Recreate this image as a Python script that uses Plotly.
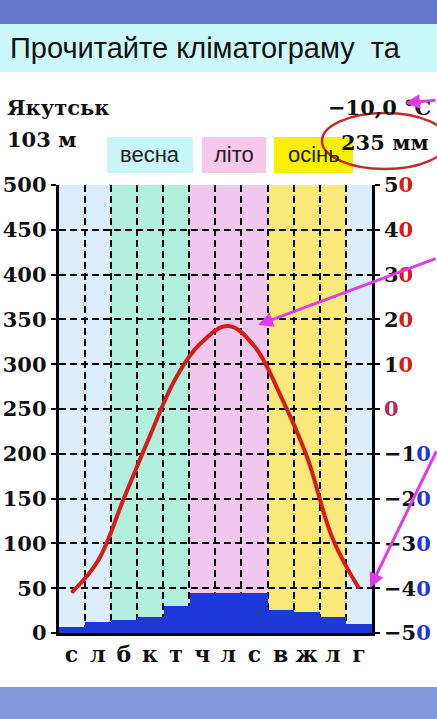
import plotly.graph_objects as go

W, H = 437, 719

# data (Якутськ)
months = ["с", "л", "б", "к", "т", "ч", "л", "с", "в", "ж", "л", "г"]
seasons = ["зима", "зима", "весна", "весна", "весна", "літо", "літо", "літо",
           "осінь", "осінь", "осінь", "зима"]
precip_mm = [7, 12, 14, 18, 30, 45, 45, 45, 26, 24, 18, 10]
temp_c = [-41, -34, -20, -6, 7, 15, 18.5, 14, 3, -10.5, -29, -40]
mm_ticks = list(range(0, 501, 50))
t_ticks = list(range(-50, 51, 10))

season_fill = {"зима": "#dcedfb", "весна": "#b0f0dc", "літо": "#f1c6ef", "осінь": "#f9e87a"}
legend_fill = {"весна": "#c9f7f7", "літо": "#f7c8e9", "осінь": "#f8f000"}

SERIF = "DejaVu Serif"
SANS = "Liberation Sans"
RED = "#d81c16"
BLUE = "#1e38d8"


def px(x):
    return x / W


def py(y):
    return 1 - y / H


def t_label(v):
    s = str(abs(v))
    head, last = s[:-1], s[-1]
    sign = "−" if v < 0 else ""
    col = RED if v > 0 else BLUE
    if v == 0:
        col = "#b02a60"
    return f"{sign}{head}<span style='color:{col}'>{last}</span>"


idx = list(range(12))
fig = go.Figure()

fig.add_trace(go.Bar(
    x=idx, y=precip_mm, width=1,
    marker=dict(color=BLUE, line=dict(width=0)),
    showlegend=False, hoverinfo="skip",
))
fig.add_trace(go.Scatter(
    x=idx, y=temp_c, yaxis="y2", mode="lines",
    line=dict(color=RED, width=4, shape="spline", smoothing=1.1),
    showlegend=False, hoverinfo="skip",
))

shapes = []
# season background columns
for i, s in enumerate(seasons):
    shapes.append(dict(type="rect", xref="x", yref="y", x0=i - 0.5, x1=i + 0.5,
                       y0=0, y1=mm_ticks[-1], fillcolor=season_fill[s],
                       line=dict(width=0), layer="below"))
# slide decoration: map strips and title band
shapes.append(dict(type="rect", xref="paper", yref="paper", x0=0, x1=1, y0=py(24), y1=1,
                   fillcolor="#6677cc", line=dict(width=0), layer="below"))
shapes.append(dict(type="rect", xref="paper", yref="paper", x0=0, x1=1, y0=py(72), y1=py(24),
                   fillcolor="#ccf8fa", line=dict(width=0), layer="below"))
shapes.append(dict(type="rect", xref="paper", yref="paper", x0=0, x1=1, y0=0, y1=py(687),
                   fillcolor="#8797dc", line=dict(width=0), layer="below"))

# legend boxes
boxes = [("весна", 107, 193), ("літо", 202, 266), ("осінь", 274, 353)]
annotations = []
for name, x0, x1 in boxes:
    shapes.append(dict(type="rect", xref="paper", yref="paper", x0=px(x0), x1=px(x1),
                       y0=py(173), y1=py(137), fillcolor=legend_fill[name],
                       line=dict(width=0), layer="below"))
    annotations.append(dict(xref="paper", yref="paper", x=px((x0 + x1) / 2), y=py(155),
                            text=name, showarrow=False, xanchor="center", yanchor="middle",
                            font=dict(family=SANS, size=22, color="#222222")))

# red ellipse around the precipitation total
shapes.append(dict(type="circle", xref="paper", yref="paper", x0=px(322), x1=px(448),
                   y0=py(169), y1=py(113), line=dict(color="#c42a2a", width=2.5),
                   layer="above"))

annotations += [
    dict(xref="paper", yref="paper", x=px(8), y=py(48), text="Прочитайте кліматограму\u00a0 та",
         showarrow=False, xanchor="left", yanchor="middle",
         font=dict(family=SANS, size=29, color="#111111")),
    dict(xref="paper", yref="paper", x=px(5), y=py(107), text="Якутськ",
         showarrow=False, xanchor="left", yanchor="middle",
         font=dict(family=SERIF, size=21, color="#111111", weight="bold")),
    dict(xref="paper", yref="paper", x=px(5), y=py(140), text="103 м",
         showarrow=False, xanchor="left", yanchor="middle",
         font=dict(family=SERIF, size=21, color="#111111", weight="bold")),
    dict(xref="paper", yref="paper", x=px(433), y=py(107), text="−10,0 °C",
         showarrow=False, xanchor="right", yanchor="middle",
         font=dict(family=SERIF, size=21, color="#111111", weight="bold")),
    dict(xref="paper", yref="paper", x=px(431), y=py(142), text="235 мм",
         showarrow=False, xanchor="right", yanchor="middle",
         font=dict(family=SERIF, size=21, color="#111111", weight="bold")),
]

# magenta pointer arrows
for hx, hy, tx, ty in [(405, 103, 445, 100), (258, 325, 440, 258), (370, 588, 440, 450)]:
    annotations.append(dict(xref="paper", yref="paper", x=px(hx), y=py(hy),
                            ax=tx - hx, ay=ty - hy, axref="pixel", ayref="pixel",
                            text="", showarrow=True, arrowhead=2, arrowsize=1,
                            arrowwidth=3, arrowcolor="#e03ce6"))

grid = dict(gridcolor="black", gridwidth=2, griddash="7px,4px")
tick_font = dict(family=SERIF, size=21, color="#111111", weight="bold")

fig.update_layout(
    width=W, height=H,
    margin=dict(l=0, r=0, t=0, b=0, autoexpand=False),
    paper_bgcolor="white", plot_bgcolor="rgba(0,0,0,0)",
    barmode="overlay", bargap=0,
    shapes=shapes, annotations=annotations,
    xaxis=dict(
        domain=[px(58.5), px(372)], range=[-0.5, 11.5],
        tickvals=idx, ticktext=months, ticks="", showgrid=False, zeroline=False,
        showline=True, linecolor="black", linewidth=2.5,
        tickfont=dict(family=SERIF, size=22, color="#111111", weight="bold"),
        minor=dict(tickvals=[i + 0.5 for i in idx[:-1]], showgrid=True, ticks="", **grid),
        fixedrange=True,
    ),
    yaxis=dict(
        domain=[py(633), py(185)], range=[0, mm_ticks[-1]],
        tickvals=mm_ticks, ticks="outside", ticklen=5, tickwidth=2, tickcolor="black",
        showgrid=True, zeroline=False, showline=True, linecolor="black", linewidth=2.5,
        tickfont=tick_font, fixedrange=True, **grid,
    ),
    yaxis2=dict(
        overlaying="y", side="right", anchor="x", range=[t_ticks[0], t_ticks[-1]],
        tickvals=t_ticks, ticktext=[t_label(v) for v in t_ticks],
        ticks="outside", ticklen=5, tickwidth=2, tickcolor="black",
        showgrid=False, zeroline=False, showline=True, linecolor="black", linewidth=2.5,
        tickfont=tick_font, fixedrange=True,
    ),
)

fig.write_html(
    "out.html",
    config=dict(displayModeBar=False),
    post_script="document.body.style.margin='0';document.body.style.overflow='hidden';",
)
